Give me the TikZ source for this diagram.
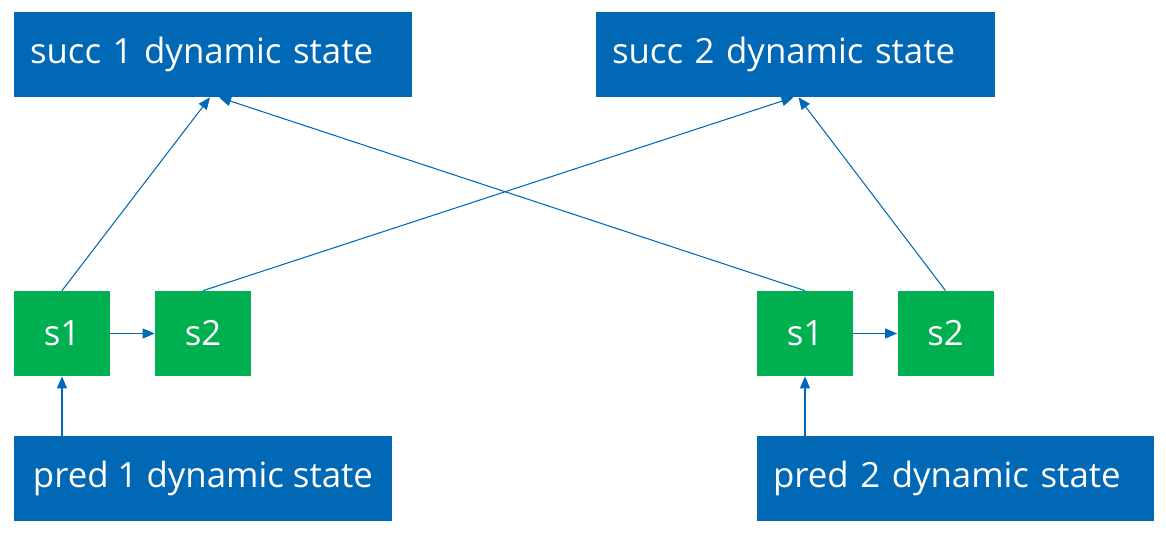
\documentclass[tikz,border=0pt]{standalone}
\usepackage{fontspec}
\setmainfont{Open Sans}
\usetikzlibrary{arrows.meta}
\definecolor{stateblue}{RGB}{0,104,181}
\definecolor{stepgreen}{RGB}{0,176,80}
\begin{document}
\begin{tikzpicture}[line join=round,
  dyn/.style={fill=stateblue,text=white,minimum height=1.7cm,inner xsep=0.32cm,inner ysep=0pt,align=left,font=\fontsize{19.8}{22}\selectfont},
  sn/.style={fill=stepgreen,text=white,minimum width=1.92cm,minimum height=1.7cm,inner sep=0pt,font=\fontsize{19.8}{22}\selectfont},
  link/.style={draw=stateblue,line width=.6pt,-{Triangle[length=.24cm,width=.2cm]}}]
\useasboundingbox(0,0)rectangle(23.32,10.68);
\node[dyn,text width=7.32cm](succA)at(4.26,9.59){succ 1 dynamic state};
\node[dyn,text width=7.34cm](succB)at(15.91,9.59){succ 2 dynamic state};
\node[sn](aA)at(1.24,4.01){s1};\node[sn](aB)at(4.06,4.01){s2};
\node[sn](bA)at(16.10,4.01){s1};\node[sn](bB)at(18.91,4.01){s2};
\node[dyn,inner xsep=0pt,minimum width=7.56cm](predA)at(4.06,1.11){pred 1 dynamic state};
\node[dyn,text width=7.30cm](predB)at(19.11,1.11){pred 2 dynamic state};
\draw[link](aA.north)--([xshift=-.06cm]succA.south);
\draw[link](bA.north)--([xshift=.12cm]succA.south);
\draw[link](aB.north)--([xshift=-.04cm]succB.south);
\draw[link](bB.north)--([xshift=.06cm]succB.south);
\draw[link](aA)--(aB);\draw[link](bA)--(bB);
\draw[link](aA.south|-predA.north)--(aA.south);
\draw[link](bA.south|-predB.north)--(bA.south);
\end{tikzpicture}
\end{document}
